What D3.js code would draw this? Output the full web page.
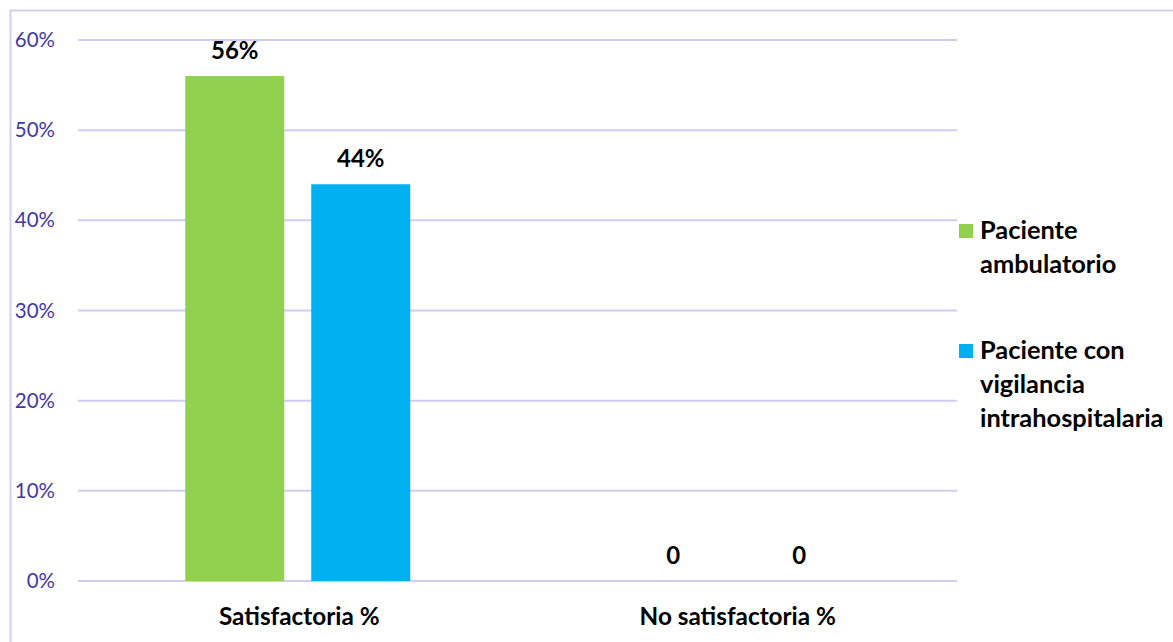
<!DOCTYPE html>
<html>
<head>
<meta charset="utf-8">
<script src="https://cdn.jsdelivr.net/npm/d3@7"></script>
<style>
  html, body { margin: 0; padding: 0; background: #fff; }
  svg { display: block; font-family: Lato, "Open Sans", sans-serif; }
</style>
</head>
<body>
<svg id="chart" width="1173" height="642"></svg>
<script>
// Categories, series and tick labels
const categories = ["Satisfactoria %", "No satisfactoria %"];
const seriesNames = ["Paciente ambulatorio", "Paciente con vigilancia intrahospitalaria"];
const ambulatorio = [56, 0];
const intrahospitalaria = [44, 0];
const valueLabels = [["56%", "0"], ["44%", "0"]];
const yTicks = [0, 10, 20, 30, 40, 50, 60];
const legendLines = [["Paciente", "ambulatorio"], ["Paciente con", "vigilancia", "intrahospitalaria"]];
const colors = ["#92d050", "#00b0f0"];

const svg = d3.select("#chart");
const W = 1173, H = 642;

// Outer frame (top and left edges visible)
svg.append("path")
  .attr("d", `M10.5,${H} L10.5,10.5 L${W},10.5`)
  .attr("fill", "none").attr("stroke", "#d4cfee").attr("stroke-width", 2);

const margin = { left: 80, right: 957, top: 40, bottom: 581 };

const x = d3.scaleBand().domain(categories).range([margin.left, margin.right]);
const y = d3.scaleLinear().domain([0, 60]).range([margin.bottom, margin.top]);

// Gridlines
svg.append("g").selectAll("line").data(yTicks).join("line")
  .attr("x1", 78).attr("x2", margin.right)
  .attr("y1", d => y(d)).attr("y2", d => y(d))
  .attr("stroke", "#d0ccf2").attr("stroke-width", 2);

// Y axis labels
const yAxis = d3.axisLeft(y).tickValues(yTicks).tickFormat(d => d + "%").tickSize(0).tickPadding(0);
const gy = svg.append("g").attr("transform", "translate(55,0)").call(yAxis);
gy.select(".domain").remove();
gy.selectAll("text").attr("fill", "#3f3aa0").attr("font-size", 20.5)
  .attr("font-family", "Lato, 'Open Sans', sans-serif");

// Bars
const series = [ambulatorio, intrahospitalaria];
const groupWidth = 225;
const x1 = d3.scaleBand().domain([0, 1]).range([0, groupWidth]).paddingInner(0.214);
const groupOffset = (x.bandwidth() - groupWidth) / 2 - 1.5;

series.forEach((vals, si) => {
  const g = svg.append("g");
  g.selectAll("rect").data(vals).join("rect")
    .attr("x", (d, i) => x(categories[i]) + groupOffset + x1(si))
    .attr("y", d => y(d))
    .attr("width", x1.bandwidth())
    .attr("height", d => y(0) - y(d))
    .attr("fill", colors[si]);
  g.selectAll("text").data(vals).join("text")
    .attr("x", (d, i) => x(categories[i]) + groupOffset + x1(si) + x1.bandwidth() / 2)
    .attr("y", d => y(d) - 17)
    .attr("text-anchor", "middle")
    .attr("font-weight", "bold").attr("font-size", 24).attr("fill", "#000")
    .text((d, i) => valueLabels[si][i]);
});

// Category labels
svg.append("g").selectAll("text").data(categories).join("text")
  .attr("x", d => x(d) + x.bandwidth() / 2)
  .attr("y", 625)
  .attr("text-anchor", "middle")
  .attr("font-weight", "bold").attr("font-size", 24.3).attr("fill", "#000")
  .text(d => d);

// Legend
const legendTop = [231, 351];
seriesNames.forEach((name, si) => {
  const g = svg.append("g").attr("class", "legend-item");
  g.append("rect").attr("x", 959).attr("y", legendTop[si] - 7).attr("width", 14).attr("height", 14)
    .attr("fill", colors[si]);
  g.selectAll("text").data(legendLines[si]).join("text")
    .attr("x", 980)
    .attr("y", (d, i) => legendTop[si] + 8 + i * 34)
    .attr("font-weight", "bold").attr("font-size", 25.4).attr("fill", "#000")
    .text(d => d);
});
</script>
</body>
</html>
